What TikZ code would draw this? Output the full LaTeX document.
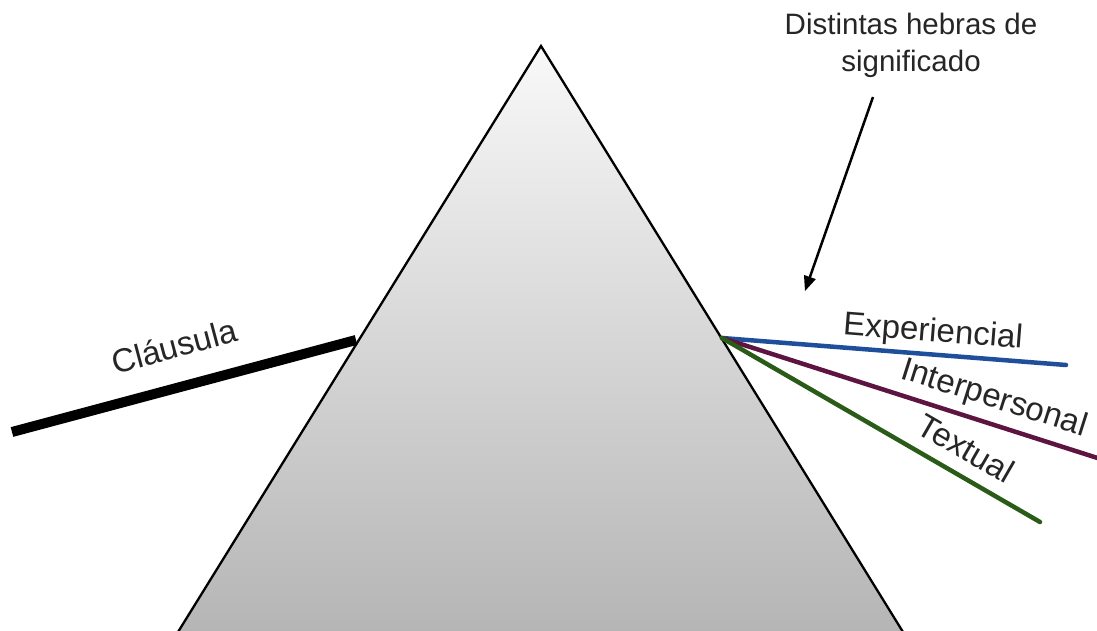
\documentclass[tikz,border=0pt]{standalone}
\usepackage{fontspec}
\setmainfont{Liberation Sans}
\usetikzlibrary{positioning,calc,arrows}
\definecolor{expblue}{RGB}{31,78,155}
\definecolor{intpurple}{RGB}{94,20,64}
\definecolor{txtgreen}{RGB}{42,92,24}

\begin{document}
\begin{tikzpicture}[x=1pt,y=-1pt,
	strand/.style={line width=4.5pt,line cap=round},
	lbl/.style={font=\fontsize{33}{38}\selectfont,text=black!85,inner sep=0pt},
	note/.style={font=\fontsize{29.5}{37}\selectfont,text=black!85,align=center,inner sep=0pt}]
\useasboundingbox (0,0) rectangle (1097,631);
\coordinate (apex) at (541,46);
\coordinate (bl) at (178,632);
\coordinate (br) at (903,632);
\coordinate (in) at (12,432);
\coordinate (hit) at (356,340);
\coordinate (src) at (722,338);
\coordinate (exp) at (1066,365);
\coordinate (int) at (1110,462);
\coordinate (txt) at (1040,522);

% prism
\shade[top color=gray!5,bottom color=gray!58] (apex)--(br)--(bl)--cycle;
\draw[line width=2.3pt,line join=miter] (bl)--(apex)--(br);

% incoming clause
\draw[line width=10pt] (in)--(hit);
\node[lbl,rotate=15] (clau) at (174,346) {Cláusula};

% strands of meaning
\foreach \c/\e in {expblue/exp,intpurple/int,txtgreen/txt}{
	\draw[strand,color=\c](src)--(\e);
}
\node[lbl,rotate=-4.5] (explbl) at (933,333) {Experiencial};
\node[lbl,rotate=-17.6] (intlbl) at (994,399) {Interpersonal};
\node[lbl,rotate=-30] (txtlbl) at (966,448) {Textual};

% note
\node[note] (hebras) at (911,45) {Distintas hebras de\\significado};
\coordinate (tip) at (805,291);
\draw[-triangle 45,line width=2.5pt] (873,97)--(tip);
\end{tikzpicture}
\end{document}
